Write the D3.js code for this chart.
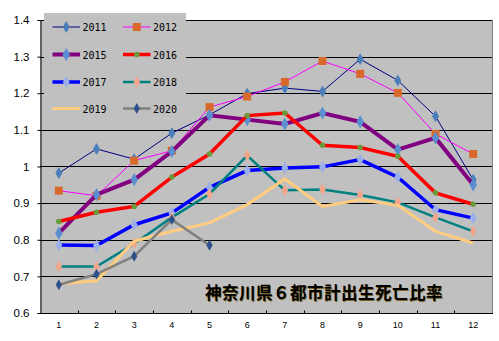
<!DOCTYPE html>
<html>
<head>
<meta charset="utf-8">
<script src="https://cdn.jsdelivr.net/npm/d3@7/dist/d3.min.js"></script>
<style>
  html, body { margin: 0; padding: 0; background: #fff; }
  svg { display: block; }
</style>
</head>
<body>
<svg id="chart" width="499" height="341"></svg>
<script>
// Monthly birth/death ratio, six cities of Kanagawa
const months = [1, 2, 3, 4, 5, 6, 7, 8, 9, 10, 11, 12];
const yTicks = [0.6, 0.7, 0.8, 0.9, 1.0, 1.1, 1.2, 1.3, 1.4];
const yTickLabels = ["0.6", "0.7", "0.8", "0.9", "1", "1.1", "1.2", "1.3", "1.4"];
const titleText = "神奈川県６都市計出生死亡比率";

const v2011 = [0.982, 1.048, 1.020, 1.091, 1.141, 1.199, 1.214, 1.205, 1.293, 1.235, 1.137, 0.964];
const v2012 = [0.934, 0.920, 1.016, 1.043, 1.162, 1.191, 1.231, 1.288, 1.253, 1.201, 1.089, 1.034];
const v2015 = [0.818, 0.923, 0.964, 1.041, 1.140, 1.128, 1.116, 1.146, 1.122, 1.046, 1.078, 0.950];
const v2016 = [0.850, 0.875, 0.891, 0.971, 1.034, 1.139, 1.146, 1.058, 1.052, 1.028, 0.928, 0.897];
const v2017 = [0.786, 0.784, 0.841, 0.873, 0.943, 0.989, 0.996, 0.999, 1.019, 0.971, 0.882, 0.859];
const v2018 = [0.727, 0.727, 0.789, 0.861, 0.925, 1.030, 0.935, 0.937, 0.922, 0.902, 0.861, 0.823];
const v2019 = [0.680, 0.688, 0.796, 0.823, 0.846, 0.896, 0.966, 0.891, 0.909, 0.894, 0.823, 0.791];
const v2020 = [0.677, 0.706, 0.755, 0.855, 0.785];

const series = [
  { name: "2011", values: v2011, stroke: "#000080", width: 1,   marker: "diamond", mfill: "#4a7ebb", msize: 42 },
  { name: "2012", values: v2012, stroke: "#ff00ff", width: 1,   marker: "square",  mfill: "#d9692a", msize: 64 },
  { name: "2015", values: v2015, stroke: "#800080", width: 4,   marker: "diamond", mfill: "#5b8ed0", msize: 50 },
  { name: "2016", values: v2016, stroke: "#ff0000", width: 3.5, marker: "circle",  mfill: "#6a9a3a", msize: 24 },
  { name: "2017", values: v2017, stroke: "#0000ff", width: 3.5, marker: "diamond", mfill: "#9bb0e8", msize: 42 },
  { name: "2018", values: v2018, stroke: "#008080", width: 2.5, marker: "diamond", mfill: "#f2a58a", msize: 38 },
  { name: "2019", values: v2019, stroke: "#ffcc80", width: 3,   marker: null,      mfill: null,      msize: 0 },
  { name: "2020", values: v2020, stroke: "#808080", width: 2.5, marker: "diamond", mfill: "#2d4f8a", msize: 34 }
];

const svg = d3.select("#chart");
const plot = { left: 40, right: 492, top: 20, bottom: 313 };

const x = d3.scaleBand().domain(months).range([plot.left, plot.right]).padding(0);
const y = d3.scaleLinear().domain([0.6, 1.4]).range([plot.bottom, plot.top]);
const cx = m => x(m) + x.bandwidth() / 2;

// plot background
svg.append("rect")
  .attr("x", plot.left).attr("y", plot.top)
  .attr("width", plot.right - plot.left).attr("height", plot.bottom - plot.top)
  .attr("fill", "#c0c0c0");

// horizontal gridlines
svg.append("g").selectAll("line").data(yTicks).join("line")
  .attr("x1", plot.left).attr("x2", plot.right)
  .attr("y1", d => Math.round(y(d)) + 0.5).attr("y2", d => Math.round(y(d)) + 0.5)
  .attr("stroke", "#000").attr("stroke-width", 1);

// right border
svg.append("line")
  .attr("x1", plot.right + 0.5).attr("x2", plot.right + 0.5)
  .attr("y1", plot.top).attr("y2", plot.bottom)
  .attr("stroke", "#808080");

// y axis
const yAxis = d3.axisLeft(y).tickValues(yTicks)
  .tickFormat((d, i) => yTickLabels[i]).tickSize(3).tickPadding(8);
const gy = svg.append("g").attr("transform", `translate(${plot.left + 0.5},0)`).call(yAxis);
gy.select(".domain").attr("stroke", "#000");
gy.selectAll(".tick line").attr("stroke", "#000");
gy.selectAll(".tick text")
  .attr("font-family", "Liberation Sans, Arial, sans-serif")
  .attr("font-size", 11.5).attr("fill", "#000");

// x axis: ticks sit on category boundaries, labels at centres
const gx = svg.append("g").attr("transform", `translate(0,${plot.bottom + 0.5})`);
gx.append("line").attr("x1", plot.left).attr("x2", plot.right + 1)
  .attr("stroke", "#000");
gx.selectAll("line.tk").data(months.slice(1)).join("line").attr("class", "tk")
  .attr("x1", d => Math.round(x(d)) + 0.5).attr("x2", d => Math.round(x(d)) + 0.5)
  .attr("y1", 0).attr("y2", -3).attr("stroke", "#000");
gx.selectAll("text").data(months).join("text")
  .attr("x", d => cx(d)).attr("y", 14)
  .attr("text-anchor", "middle")
  .attr("font-family", "Liberation Sans, Arial, sans-serif")
  .attr("font-size", 9).attr("fill", "#000")
  .text(d => d);

// series lines and markers
const symbolType = { diamond: d3.symbolDiamond, square: d3.symbolSquare, circle: d3.symbolCircle };
const line = d3.line().x((d, i) => cx(months[i])).y(d => y(d));

series.forEach(s => {
  const g = svg.append("g");
  g.append("path").datum(s.values)
    .attr("d", line)
    .attr("fill", "none")
    .attr("stroke", s.stroke)
    .attr("stroke-width", s.width)
    .attr("stroke-linejoin", "miter");
  if (s.marker) {
    const sym = d3.symbol().type(symbolType[s.marker]).size(s.msize);
    g.selectAll("path.m").data(s.values).join("path").attr("class", "m")
      .attr("transform", (d, i) => `translate(${cx(months[i])},${y(d)})`)
      .attr("d", sym)
      .attr("fill", s.mfill);
  }
});

// legend
const legend = svg.append("g");
legend.append("rect")
  .attr("x", 44).attr("y", 13).attr("width", 142).attr("height", 107)
  .attr("fill", "#c0c0c0");
const rowY = [27, 54.5, 82, 108.5];
const colX = [52.5, 123];
series.forEach((s, i) => {
  const lx = colX[i % 2];
  const ly = rowY[Math.floor(i / 2)];
  const item = legend.append("g").attr("transform", `translate(${lx},${ly})`);
  item.append("line")
    .attr("x1", 0).attr("x2", 27.5).attr("y1", 0).attr("y2", 0)
    .attr("stroke", s.stroke).attr("stroke-width", s.width);
  if (s.marker) {
    item.append("path")
      .attr("transform", "translate(13.75,0)")
      .attr("d", d3.symbol().type(symbolType[s.marker]).size(s.msize)())
      .attr("fill", s.mfill);
  }
  item.append("text")
    .attr("x", 30).attr("y", 4)
    .attr("font-family", "DejaVu Sans Mono, Liberation Mono, monospace")
    .attr("font-size", 10).attr("fill", "#000")
    .text(s.name);
});

// chart title inside the plot
const tg = svg.append("g");
tg.append("text")
  .attr("x", 324).attr("y", 299)
  .attr("text-anchor", "middle")
  .attr("font-family", "Noto Sans CJK JP, sans-serif")
  .attr("font-weight", "bold").attr("font-size", 16.5)
  .attr("letter-spacing", 0.5)
  .attr("fill", "#7a6320")
  .attr("transform", "translate(0.8,0.8)")
  .text(titleText);
tg.append("text")
  .attr("x", 324).attr("y", 299)
  .attr("text-anchor", "middle")
  .attr("font-family", "Noto Sans CJK JP, sans-serif")
  .attr("font-weight", "bold").attr("font-size", 16.5)
  .attr("letter-spacing", 0.5)
  .attr("fill", "#000")
  .text(titleText);
</script>
</body>
</html>
